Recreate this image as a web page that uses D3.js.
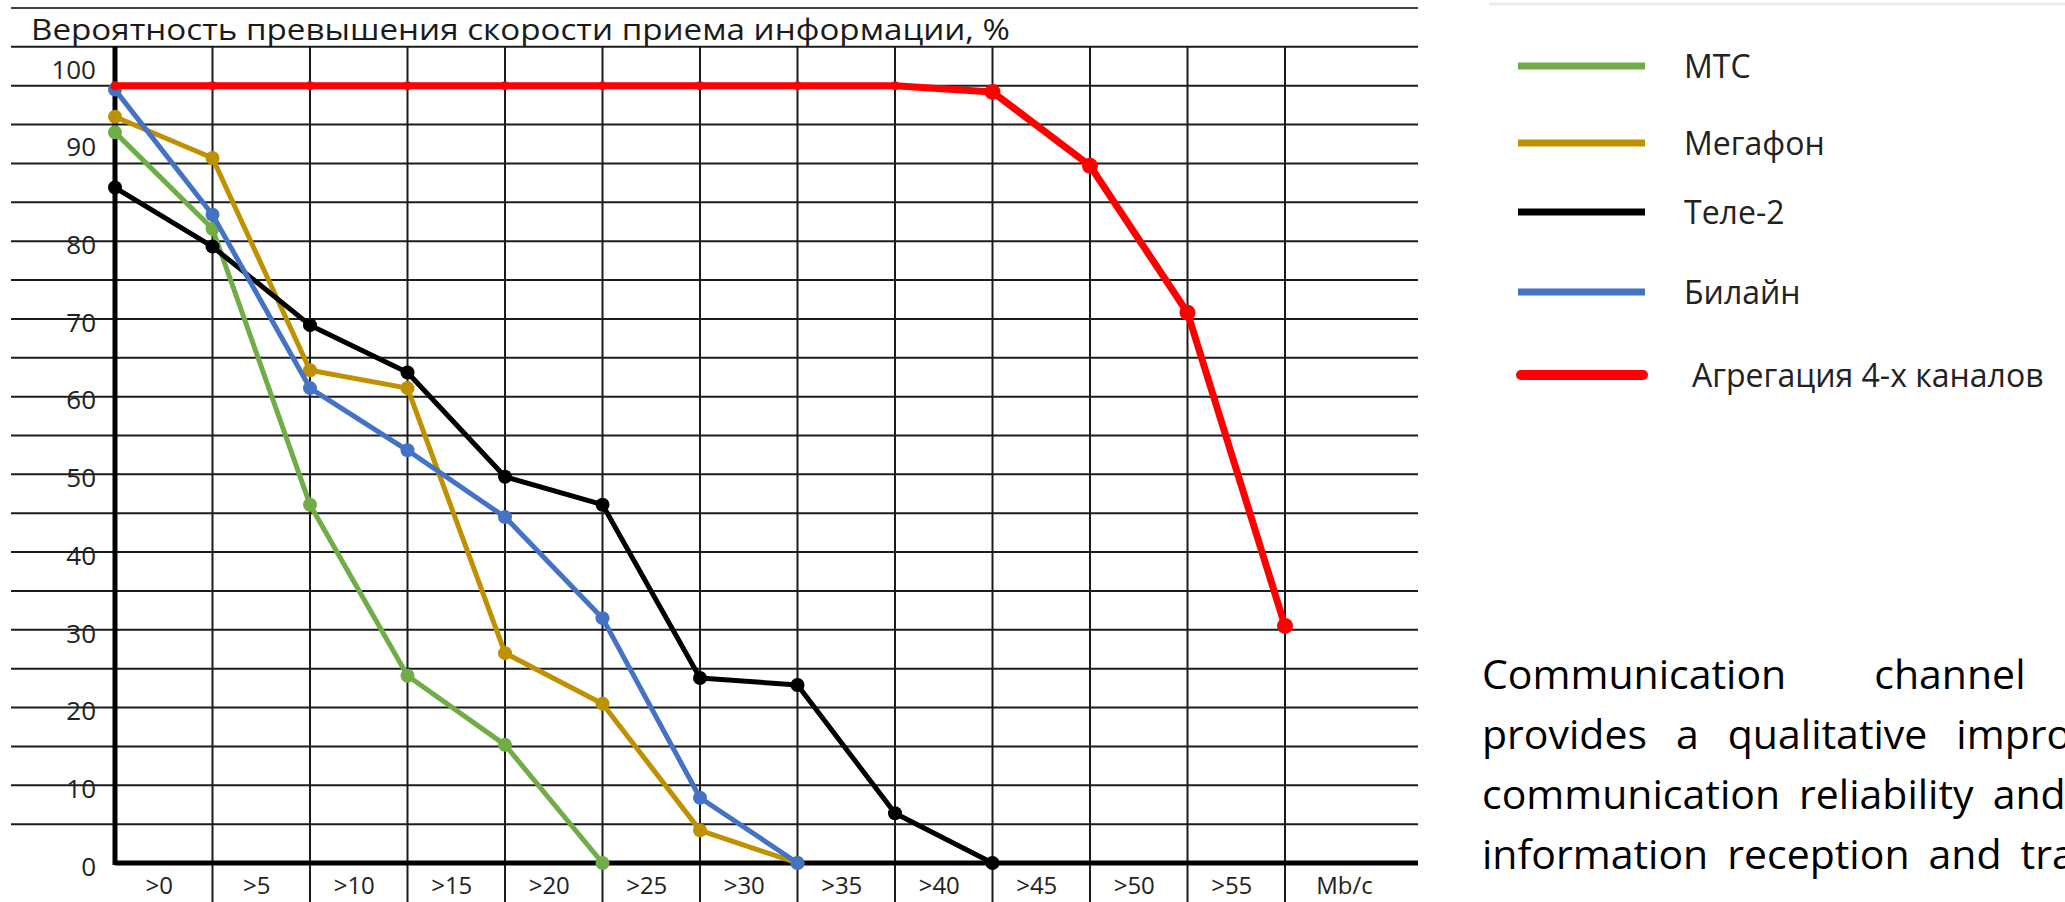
<!DOCTYPE html>
<html>
<head>
<meta charset="utf-8">
<script src="https://cdn.jsdelivr.net/npm/d3@7"></script>
<style>
  body { margin: 0; background: #fff; }
  svg { display: block; font-family: "Open Sans", sans-serif; }
</style>
</head>
<body>
<div class="chart"></div>
<script>
// speed thresholds (grid boundaries) and cell labels
var speeds = [0, 5, 10, 15, 20, 25, 30, 35, 40, 45, 50, 55, 60];
var speedLabels = [">0", ">5", ">10", ">15", ">20", ">25", ">30", ">35", ">40", ">45", ">50", ">55"];
var unitLabel = "Mb/c";
var yTicks = [0, 10, 20, 30, 40, 50, 60, 70, 80, 90, 100];

var title = "Вероятность превышения скорости приема информации, %";

// probability (%) at each threshold
var mts = [94.0, 81.6, 46.1, 24.1, 15.2, 0];
var megafon = [96.0, 90.7, 63.4, 61.1, 27.0, 20.5, 4.2, 0];
var tele2 = [86.9, 79.3, 69.2, 63.1, 49.7, 46.1, 23.8, 22.9, 6.4, 0];
var beeline = [99.5, 83.4, 61.1, 53.1, 44.5, 31.5, 8.4, 0];
var aggregation = [100, 100, 100, 100, 100, 100, 100, 100, 100, 99.2, 89.7, 70.8, 30.5];

var seriesNames = ["МТС", "Мегафон", "Теле-2", "Билайн", "Агрегация 4-х каналов"];
var seriesColors = ["#70AD47", "#BF9000", "#000000", "#4472C4", "#FF0000"];

var noteLines = [
  ["Communication", "channel"],
  ["provides", "a", "qualitative", "improvement"],
  ["communication", "reliability", "and"],
  ["information", "reception", "and", "transmission"]
];

var svgWidth = 2065;
var svgHeight = 902;

var svg = d3.select(".chart")
  .append("svg")
  .attr("width", svgWidth)
  .attr("height", svgHeight);

svg.append("rect")
  .attr("width", svgWidth)
  .attr("height", svgHeight)
  .attr("fill", "#fff");

var gridLeft = 11;
var gridRight = 1418;

var xScale = d3.scaleLinear().domain([0, 60]).range([115, 1285]);
var yScale = d3.scaleLinear().domain([0, 110]).range([863, 8]);

// horizontal grid lines every 5%
svg.append("g")
  .selectAll("line")
  .data(d3.range(5, 111, 5))
  .enter()
  .append("line")
  .attr("x1", gridLeft)
  .attr("x2", gridRight)
  .attr("y1", d => yScale(d))
  .attr("y2", d => yScale(d))
  .attr("stroke", d => d === 110 ? "#444" : "#1c1c1c")
  .attr("stroke-width", 2);

// vertical grid lines at each threshold
svg.append("g")
  .selectAll("line")
  .data(speeds.slice(1))
  .enter()
  .append("line")
  .attr("x1", d => xScale(d))
  .attr("x2", d => xScale(d))
  .attr("y1", yScale(105))
  .attr("y2", svgHeight)
  .attr("stroke", "#1c1c1c")
  .attr("stroke-width", 2);

// title
svg.append("text")
  .attr("x", 31)
  .attr("y", 40)
  .attr("font-size", 29)
  .attr("fill", "#1a1a1a")
  .attr("textLength", 979)
  .attr("lengthAdjust", "spacingAndGlyphs")
  .text(title);

// y labels
var leftAxis = d3.axisLeft(yScale).tickValues(yTicks).tickSize(0).tickPadding(19);
var yAxisG = svg.append("g")
  .attr("transform", `translate(${xScale(0)}, 0)`)
  .call(leftAxis);
yAxisG.select(".domain").remove();
yAxisG.selectAll("text")
  .attr("font-size", 26)
  .attr("font-family", "Open Sans, sans-serif")
  .attr("fill", "#222")
  .attr("y", d => d >= 90 ? -16 : 4);

// x labels (centered in cells)
var bottomAxis = d3.axisBottom(xScale)
  .tickValues(speeds.slice(0, -1).map(s => s + 2.5))
  .tickFormat((d, i) => speedLabels[i])
  .tickSize(0)
  .tickPadding(14);
var xAxisG = svg.append("g")
  .attr("transform", `translate(0, ${yScale(0)})`)
  .call(bottomAxis);
xAxisG.select(".domain").remove();
xAxisG.selectAll("text")
  .attr("font-size", 24)
  .attr("font-family", "Open Sans, sans-serif")
  .attr("fill", "#222")
  .attr("dx", -5);

svg.append("text")
  .attr("x", (xScale(60) + gridRight) / 2 - 7)
  .attr("y", yScale(0) + 31)
  .attr("text-anchor", "middle")
  .attr("font-size", 24)
  .attr("fill", "#222")
  .text(unitLabel);

// axis lines
svg.append("line")
  .attr("x1", xScale(0)).attr("x2", xScale(0))
  .attr("y1", yScale(105)).attr("y2", yScale(0) + 2)
  .attr("stroke", "#000").attr("stroke-width", 5);
svg.append("line")
  .attr("x1", xScale(0)).attr("x2", gridRight)
  .attr("y1", yScale(0)).attr("y2", yScale(0))
  .attr("stroke", "#000").attr("stroke-width", 5);

// series
var seriesValues = [mts, megafon, tele2, beeline, aggregation];
var series = seriesValues.map(function (vals, i) {
  return {
    name: seriesNames[i],
    color: seriesColors[i],
    points: vals.map((v, j) => ({ s: speeds[j], v: v }))
  };
});

var line = d3.line()
  .x(d => xScale(d.s))
  .y(d => yScale(d.v));

series.forEach(function (sr, i) {
  var isAgg = i === 4;
  svg.append("path")
    .datum(sr.points)
    .attr("d", line)
    .attr("fill", "none")
    .attr("stroke", sr.color)
    .attr("stroke-width", isAgg ? 7 : 5)
    .attr("stroke-linejoin", "round");

  svg.append("g")
    .selectAll("circle")
    .data(sr.points)
    .enter()
    .append("circle")
    .attr("cx", d => xScale(d.s))
    .attr("cy", d => yScale(d.v))
    .attr("r", d => isAgg ? (d.v < 100 ? 8 : 4.5) : 7)
    .attr("fill", sr.color);
});

// legend
svg.append("line")
  .attr("x1", 1489).attr("x2", svgWidth)
  .attr("y1", 4).attr("y2", 4)
  .attr("stroke", "#ececec").attr("stroke-width", 3);

var legend = svg.append("g")
  .selectAll("g")
  .data(series)
  .enter()
  .append("g")
  .attr("transform", (d, i) => `translate(1518, ${[66, 143, 212, 292, 375][i]})`);

legend.append("line")
  .attr("x1", (d, i) => i === 4 ? 3 : 0)
  .attr("x2", (d, i) => i === 4 ? 125 : 127)
  .attr("stroke", d => d.color)
  .attr("stroke-width", (d, i) => i === 4 ? 10 : 7)
  .attr("stroke-linecap", (d, i) => i === 4 ? "round" : "butt");

legend.append("text")
  .attr("x", (d, i) => i === 4 ? 174 : 166)
  .attr("y", 12)
  .attr("font-size", 32)
  .attr("fill", "#222")
  .text(d => d.name);

// note text (justified, runs off the right edge)
var noteGaps = [88, 29, 19, 19];
noteLines.forEach(function (words, li) {
  var t = svg.append("text")
    .attr("y", 689 + li * 60)
    .attr("font-size", 41)
    .attr("fill", "#000");
  var x = 1482;
  words.forEach(function (w) {
    var span = t.append("tspan").attr("x", x).text(w);
    x += span.node().getComputedTextLength() + noteGaps[li];
  });
});
</script>
</body>
</html>
